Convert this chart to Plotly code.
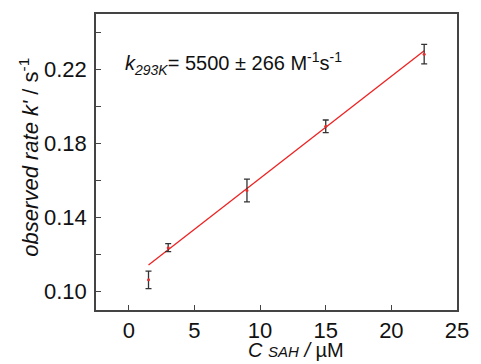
import plotly.graph_objects as go

conc_uM = [1.5, 3.0, 9.0, 15.0, 22.5]
k_obs = [0.1063, 0.1237, 0.1546, 0.1893, 0.2283]
k_err = [0.0047, 0.0022, 0.0061, 0.0034, 0.0053]

fit_slope = 0.00551
fit_intercept = 0.1061
fit_x = [1.5, 22.5]

y_tickvals = [0.10, 0.12, 0.14, 0.16, 0.18, 0.20, 0.22, 0.24]
y_ticktext = ["0.10", "", "0.14", "", "0.18", "", "0.22", ""]
x_tickvals = [0, 5, 10, 15, 20, 25]

FONT = "Liberation Sans, Arial, sans-serif"
AX = "#444444"

fig = go.Figure()
fig.add_trace(go.Scatter(
    x=fit_x, y=[fit_intercept + fit_slope * v for v in fit_x],
    mode="lines", line=dict(color="#ee2222", width=1.3), showlegend=False))
fig.add_trace(go.Scatter(
    x=conc_uM, y=k_obs, mode="markers",
    marker=dict(color="#e03030", size=3),
    error_y=dict(type="data", array=k_err, color="#333333", thickness=1.3, width=3),
    showlegend=False))

fig.update_layout(
    width=481, height=364,
    margin=dict(l=96, r=15, t=12, b=54),
    paper_bgcolor="white", plot_bgcolor="white",
    font=dict(family=FONT, size=22, color="#111111"),
    xaxis=dict(range=[-2.5, 25], tickvals=x_tickvals, ticks="inside", ticklen=5,
               tickcolor=AX, tickwidth=1.3, showline=True, linecolor=AX, linewidth=1.5,
               mirror=True, showgrid=False, zeroline=False,
               tickfont=dict(size=22)),
    yaxis=dict(range=[0.09, 0.25], tickvals=y_tickvals, ticktext=y_ticktext,
               ticks="inside", ticklen=5, tickcolor=AX, tickwidth=1.3,
               ticklabelstandoff=3,
               showline=True, linecolor=AX, linewidth=1.5, mirror=True,
               showgrid=False, zeroline=False, tickfont=dict(size=22)),
)
fig.add_annotation(
    x=7.96, y=0.2232, xref="x", yref="y", showarrow=False,
    xanchor="center", yanchor="middle",
    text="<i>k</i><sub><i>293K</i></sub>= 5500 ± 266 M<sup>-1</sup>s<sup>-1</sup>",
    font=dict(size=20))
fig.add_annotation(
    x=-0.1865, y=0.517, xref="paper", yref="paper", showarrow=False,
    xanchor="center", yanchor="middle", textangle=-90,
    text="<i>observed rate k'</i> / s<sup>-1</sup>",
    font=dict(size=22))
fig.add_annotation(
    x=0.554, y=-0.091, xref="paper", yref="paper", showarrow=False,
    xanchor="center", yanchor="top",
    text="<i>C</i> <i><span style='font-size:15px'>SAH</span></i> <i>/</i> µM",
    font=dict(size=20))

fig.write_html("out.html", config={"displayModeBar": False},
               post_script="document.body.style.margin='0';")
